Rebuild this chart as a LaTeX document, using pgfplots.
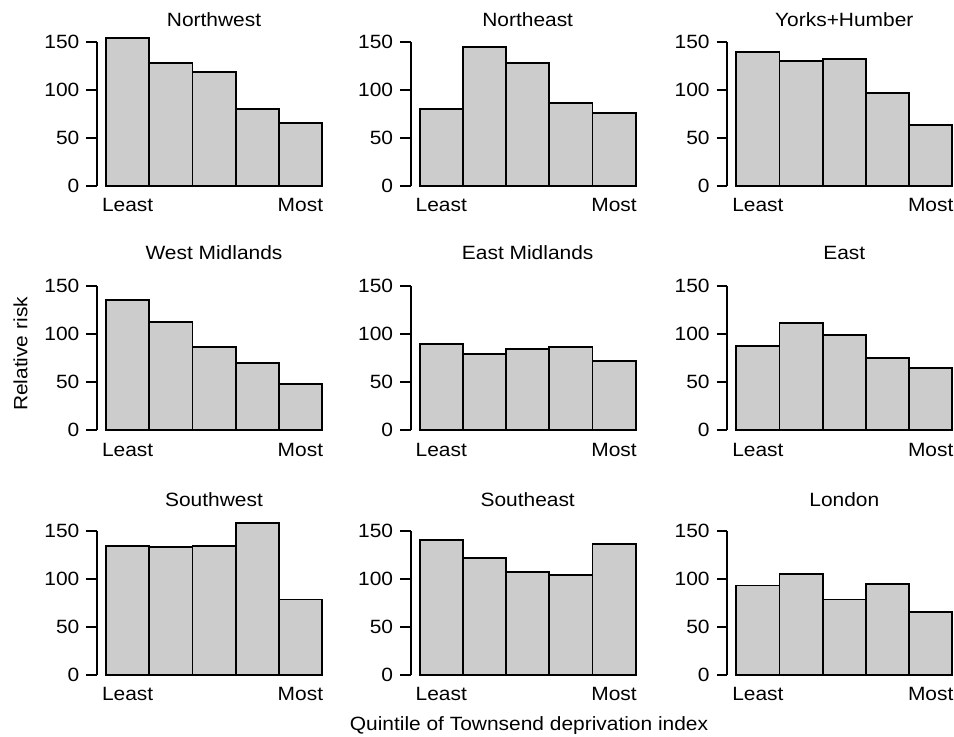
\documentclass[border=0pt]{standalone}
\usepackage{fontspec}
\setmainfont{Liberation Sans}[FakeStretch=1.09]
\usepackage{pgfplots}
\pgfplotsset{compat=1.18}
\definecolor{barfill}{RGB}{204,204,204}
\pgfplotsset{panel/.style={
  scale only axis, width=117pt, height=72pt,
  xmin=0.2917, xmax=5.7083, ymin=0, ymax=150,
  enlargelimits=false, clip=false,
  axis y line*=left, axis x line*=bottom,
  x axis line style={draw=none},
  ytick={0,50,100,150},
  xtick={1,5}, xticklabels={Least,Most},
  x tick style={draw=none},
  tick align=outside, major tick length=5.3pt,
  axis line style={line width=0.9pt},
  y tick style={line width=0.9pt, black},
  ybar, bar width=1,
  font=\fontsize{9.6}{11}\selectfont,
  /pgf/number format/assume math mode=true,
  title style={at={(0.5,1)}, anchor=base, yshift=1.7pt, font=\fontsize{9.6}{11}\selectfont},
  yticklabel style={font=\fontsize{9.6}{11}\selectfont},
  xticklabel style={font=\fontsize{9.6}{11}\selectfont, yshift=2.4pt},
  anchor=origin,
}}
\tikzset{bars/.style={fill=barfill, draw=black, line width=0.9pt}}
\begin{document}
\begin{tikzpicture}[x=1pt,y=1pt]
\useasboundingbox (0,0) rectangle (477,368.5);
% Row 1
\begin{axis}[panel, at={(48.5pt,275.65pt)}, title={Northwest}]
\addplot[bars] coordinates {(1,154) (2,127.5) (3,118.4) (4,79.6) (5,65.6)};
\end{axis}
\begin{axis}[panel, at={(205.35pt,275.65pt)}, title={Northeast}]
\addplot[bars] coordinates {(1,79.6) (2,144.8) (3,127.5) (4,85.8) (5,75.4)};
\end{axis}
\begin{axis}[panel, at={(363.65pt,275.65pt)}, title={Yorks+Humber}]
\addplot[bars] coordinates {(1,139.6) (2,130.2) (3,132.3) (4,96.6) (5,63.5)};
\end{axis}
% Row 2
\begin{axis}[panel, at={(48.5pt,153.5pt)}, title={West Midlands}, title style={yshift=5.5pt}]
\addplot[bars] coordinates {(1,135.7) (2,112.8) (3,86.1) (4,70.1) (5,48.2)};
\end{axis}
\begin{axis}[panel, at={(205.35pt,153.5pt)}, title={East Midlands}, title style={yshift=5.5pt}]
\addplot[bars] coordinates {(1,89.6) (2,78.8) (3,84.4) (4,86.1) (5,71.5)};
\end{axis}
\begin{axis}[panel, at={(363.65pt,153.5pt)}, title={East}, title style={yshift=5.5pt}]
\addplot[bars] coordinates {(1,87.8) (2,111.8) (3,99.3) (4,75.3) (5,64.6)};
\end{axis}
% Row 3
\begin{axis}[panel, at={(48.5pt,31.15pt)}, title={Southwest}, title style={yshift=4.5pt}]
\addplot[bars] coordinates {(1,134.3) (2,132.6) (3,134.3) (4,158.4) (5,78.4)};
\end{axis}
\begin{axis}[panel, at={(205.35pt,31.15pt)}, title={Southeast}, title style={yshift=4.5pt}]
\addplot[bars] coordinates {(1,140) (2,121.7) (3,107) (4,103.6) (5,136)};
\end{axis}
\begin{axis}[panel, at={(363.65pt,31.15pt)}, title={London}, title style={yshift=4.5pt}]
\addplot[bars] coordinates {(1,93) (2,105.3) (3,78.4) (4,94.1) (5,65.5)};
\end{axis}
\node[rotate=90, anchor=center, font=\fontsize{9.6}{11}\selectfont] at (10.25,191.5) {Relative risk};
\node[anchor=base, font=\fontsize{9.6}{11}\selectfont] at (264.5,3.15) {Quintile of Townsend deprivation index};
\end{tikzpicture}
\end{document}
